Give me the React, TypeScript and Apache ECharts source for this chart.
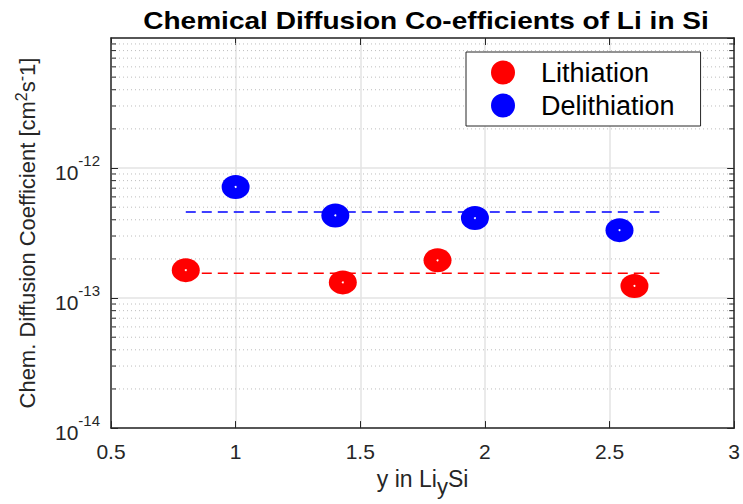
import React, { useEffect, useRef } from 'react';
import * as echarts from 'echarts';

// Measured diffusion coefficients (cm^2 s^-1) against lithium content y in Li_ySi
const seriesNames = ['Lithiation', 'Delithiation'];
const lithiationY = [0.8, 1.43, 1.81, 2.6];
const lithiationD = [1.64e-13, 1.32e-13, 1.95e-13, 1.24e-13];
const delithiationY = [1.0, 1.4, 1.96, 2.54];
const delithiationD = [7.15e-13, 4.32e-13, 4.12e-13, 3.33e-13];

// Average levels drawn as dashed reference lines
const meanSpan = [0.8, 2.7];
const lithiationMean = 1.55e-13;
const delithiationMean = 4.6e-13;

// Axis ranges
const xRange = [0.5, 3];
const xStep = 0.5;
const yRange = [1e-14, 1e-11];
const decades = [-14, -13, -12];
const minorMultipliers = [2, 3, 4, 5, 6, 7, 8, 9];

const RED = '#ff0000';
const BLUE = '#0000ff';
const AXIS = '#262626';
const FONT = '"Liberation Sans", Arial, sans-serif';
const ELLIPSE = 'path://M0,50A50,50 0 1,1 100,50A50,50 0 1,1 0,50Z';

const minorValues: number[] = [];
decades.forEach((e) => minorMultipliers.forEach((m) => minorValues.push(m * Math.pow(10, e))));

export default function App() {
  const ref = useRef<HTMLDivElement>(null);

  useEffect(() => {
    if (!ref.current) return;
    const chart = echarts.init(ref.current, null, { renderer: 'svg' });

    // Horizontal segments at each minor value, separated by gaps
    const segments = (x0: number, x1: number) => {
      const out: any[] = [];
      minorValues.forEach((v) => {
        out.push([x0, v], [x1, v], [x1, '-']);
      });
      return out;
    };
    const plotW = 628;
    const tickLen = (xRange[1] - xRange[0]) * (5 / plotW);

    const pts = (xs: number[], ys: number[]) => xs.map((x, i) => [x, ys[i]]);
    const deco = (data: any[], lineStyle: any, z: number) => ({
      type: 'line',
      data,
      symbol: 'none',
      silent: true,
      connectNulls: false,
      lineStyle,
      z,
      emphasis: { disabled: true },
    });

    chart.setOption({
      animation: false,
      backgroundColor: '#ffffff',
      textStyle: { fontFamily: FONT },
      graphic: [
        {
          type: 'text',
          x: 426,
          y: 21,
          scaleX: 1.22,
          style: {
            text: 'Chemical Diffusion Co-efficients of Li in Si',
            font: `bold 23px ${FONT}`,
            fill: '#000',
            align: 'center',
            verticalAlign: 'middle',
          },
        },
      ],
      grid: { left: 111, right: 4, top: 38, bottom: 68, containLabel: false },
      legend: {
        orient: 'vertical',
        left: 466,
        top: 52,
        data: seriesNames,
        icon: ELLIPSE,
        itemWidth: 28,
        itemHeight: 24,
        itemGap: 6,
        padding: [7, 26, 7, 25],
        borderColor: AXIS,
        borderWidth: 1,
        backgroundColor: '#ffffff',
        textStyle: { fontSize: 27, color: '#000', fontFamily: FONT, lineHeight: 24, padding: [0, 0, 0, 19] },
      },
      xAxis: [
        {
          type: 'value',
          min: xRange[0],
          max: xRange[1],
          interval: xStep,
          name: '{a|y in Li}{sub|y}{a|Si}',
          nameLocation: 'middle',
          nameGap: 38,
          nameTextStyle: {
            fontSize: 23,
            color: AXIS,
            lineHeight: 32,
            rich: {
              a: { fontSize: 23, color: AXIS, lineHeight: 32, verticalAlign: 'top' },
              sub: { fontSize: 22, color: AXIS, lineHeight: 32, verticalAlign: 'top', padding: [8, 0, 0, 0] },
            },
          },
          axisLine: { show: true, lineStyle: { color: AXIS, width: 1.5 } },
          axisTick: { show: true, inside: true, length: 7, lineStyle: { color: AXIS } },
          axisLabel: { fontSize: 21, color: AXIS, margin: 13 },
          splitLine: { show: true, lineStyle: { color: '#e3e3e3', width: 1.5 } },
        },
        {
          type: 'value',
          position: 'top',
          min: xRange[0],
          max: xRange[1],
          interval: xStep,
          axisLine: { show: true, lineStyle: { color: AXIS, width: 1.5 } },
          axisTick: { show: true, inside: true, length: 7, lineStyle: { color: AXIS } },
          axisLabel: { show: false },
          splitLine: { show: false },
        },
      ],
      yAxis: [
        {
          type: 'log',
          logBase: 10,
          min: yRange[0],
          max: yRange[1],
          name: 'Chem. Diffusion Coefficient [cm{sup|2}s{sup|-}1]',
          nameLocation: 'middle',
          nameGap: 70,
          nameRotate: 90,
          nameTextStyle: {
            fontSize: 22,
            color: AXIS,
            lineHeight: 28,
            verticalAlign: 'bottom',
            rich: { sup: { fontSize: 16, color: AXIS, verticalAlign: 'top', lineHeight: 14 } },
          },
          axisLine: { show: true, lineStyle: { color: AXIS, width: 1.5 } },
          axisTick: { show: true, inside: true, length: 7, lineStyle: { color: AXIS } },
          axisLabel: {
            margin: 11,
            showMaxLabel: false,
            formatter: (v: number) => `{b|10}{s|${Math.round(Math.log10(v))}}`,
            rich: {
              b: { fontSize: 21, color: AXIS, lineHeight: 30, verticalAlign: 'bottom', padding: [8, 0, 0, 0] },
              s: { fontSize: 15, color: AXIS, lineHeight: 16, verticalAlign: 'top' },
            },
          },
          splitLine: { show: true, lineStyle: { color: '#e3e3e3', width: 1.5 } },
        },
        {
          type: 'log',
          logBase: 10,
          position: 'right',
          min: yRange[0],
          max: yRange[1],
          axisLine: { show: true, lineStyle: { color: AXIS, width: 1.5 } },
          axisTick: { show: true, inside: true, length: 7, lineStyle: { color: AXIS } },
          axisLabel: { show: false },
          splitLine: { show: false },
        },
      ],
      series: [
        // dotted minor grid at 2..9 x 10^n
        deco(segments(xRange[0], xRange[1]), { color: '#bdbdbd', type: [1, 3], width: 1 }, 1),
        // minor ticks on the left and right frame
        deco(segments(xRange[0], xRange[0] + tickLen), { color: AXIS, width: 1 }, 2),
        deco(segments(xRange[1] - tickLen, xRange[1]), { color: AXIS, width: 1 }, 2),
        {
          name: 'lithiation-mean',
          type: 'line',
          data: [[meanSpan[0], lithiationMean], [meanSpan[1], lithiationMean]],
          symbol: 'none',
          lineStyle: { color: RED, type: [10, 6], width: 1.5 },
          silent: true,
          z: 3,
        },
        {
          name: 'delithiation-mean',
          type: 'line',
          data: [[meanSpan[0], delithiationMean], [meanSpan[1], delithiationMean]],
          symbol: 'none',
          lineStyle: { color: BLUE, type: [10, 6], width: 1.5 },
          silent: true,
          z: 3,
        },
        {
          name: seriesNames[0],
          type: 'scatter',
          data: pts(lithiationY, lithiationD),
          symbol: ELLIPSE,
          symbolSize: [28, 24],
          itemStyle: { color: RED, opacity: 1 },
          z: 4,
        },
        {
          name: seriesNames[1],
          type: 'scatter',
          data: pts(delithiationY, delithiationD),
          symbol: ELLIPSE,
          symbolSize: [28, 24],
          itemStyle: { color: BLUE, opacity: 1 },
          z: 4,
        },
        {
          name: 'centres',
          type: 'scatter',
          data: [...pts(lithiationY, lithiationD), ...pts(delithiationY, delithiationD)],
          symbol: 'circle',
          symbolSize: 2,
          itemStyle: { color: '#ffffff', opacity: 1 },
          silent: true,
          z: 5,
        },
      ],
    });

    return () => chart.dispose();
  }, []);

  return <div ref={ref} style={{ width: 743, height: 504, position: 'absolute', left: 0, top: 0 }} />;
}
